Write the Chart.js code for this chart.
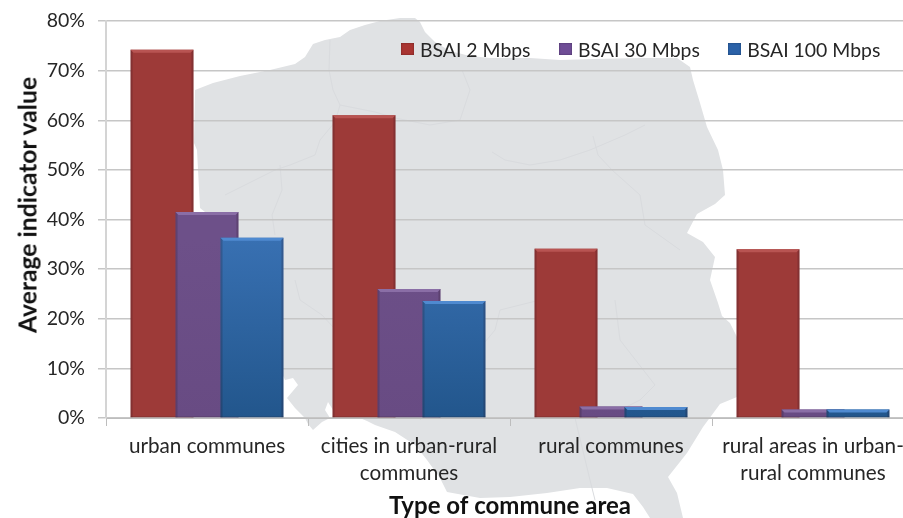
<!DOCTYPE html>
<html>
<head>
<meta charset="utf-8">
<title>Average indicator value by type of commune area</title>
<script src="https://cdn.jsdelivr.net/npm/chart.js@4"></script>
<style>
	html, body { margin: 0; background: #fff; overflow: hidden; width: 903px; height: 518px; }
	#wrap { position: relative; width: 903px; height: 518px; overflow: hidden; }
	#myChart { position: absolute; left: 0; top: 0; }
	#legend { position: absolute; top: 35px; left: 401px; height: 28px; display: flex; align-items: center;
		font: 19.4px Lato, sans-serif; color: #262626; white-space: nowrap; }
	#legend span.item { display: flex; align-items: center; margin-right: 28.5px; }
	#legend i { display: block; width: 13px; height: 12px; margin-right: 6px; box-shadow: inset 0 0 2px rgba(0,0,0,.45); }
	#yTitle { position: absolute; left: 27px; top: 205px; transform: translate(-50%, -50%) rotate(-90deg);
		font: bold 24.7px Lato, sans-serif; color: #111; white-space: nowrap; }
</style>
</head>
<body>
<div id="wrap">
	<canvas id="myChart" width="914" height="518"></canvas>
	<div id="legend"></div>
	<div id="yTitle"></div>
</div>
<script>
const categories = [
	'urban communes',
	['cities in urban-rural', 'communes'],
	'rural communes',
	['rural areas in urban-', 'rural communes'],
];
const seriesNames = ['BSAI 2 Mbps', 'BSAI 30 Mbps', 'BSAI 100 Mbps'];
const bsai2 = [74.2, 61, 34.1, 34];
const bsai30 = [41.5, 26, 2.3, 1.7];
const bsai100 = [36.3, 23.6, 2.2, 1.7];
const yTicks = ['0%', '10%', '20%', '30%', '40%', '50%', '60%', '70%', '80%'];

// map of Poland behind the plot, in canvas pixels
const mapOutline = [
	[195,90],[213,83],[240,76],[270,70],[295,64],[305,57],[313,44],[325,40],[340,37],[350,30],[365,25],[380,21],
	[400,18],[415,18],[420,22],[425,32],[435,42],[450,51],[470,56],[490,58],[530,58],[560,60],[593,59],[640,58],
	[677,58],[690,67],[693,80],[700,103],[707,127],[718,150],[723,170],[725,195],[715,204],[697,214],[687,233],
	[703,242],[715,257],[710,280],[718,303],[722,316],[730,323],[737,337],[737,397],[720,404],[703,427],[687,453],
	[668,477],[677,493],[683,518],[650,518],[643,507],[633,494],[607,488],[580,488],[547,493],[510,497],[480,498],
	[447,492],[440,478],[427,460],[415,445],[395,432],[375,425],[367,421],[360,418],[333,418],[333,410],[328,402],
	[325,410],[330,418],[322,422],[313,430],[308,424],[305,418],[295,408],[287,398],[298,385],[293,378],[285,380],
	[205,212],[200,208],[197,150],[194,143],
];
// faint voivodeship borders on the map
const mapBorders = [
	[[330,40],[329,70],[333,90],[340,105],[335,122],[320,140],[315,155],[290,165],[275,170],[255,180],[225,195]],
	[[280,165],[282,190],[272,215],[275,235]],
	[[340,105],[375,112],[395,118],[430,125],[460,120],[470,90],[462,70]],
	[[645,125],[625,135],[590,150],[560,160],[530,165],[505,160],[492,152]],
	[[593,136],[598,155],[612,170],[640,195],[645,225],[680,250]],
	[[295,280],[300,300],[322,315],[345,340]],
	[[420,420],[470,360],[495,330],[500,310],[540,300]],
	[[575,418],[590,480],[595,500]],
	[[615,300],[620,340],[655,385],[640,400],[610,415]],
];

// draws the map under the gridlines
const mapBackdrop = {
	id: 'mapBackdrop',
	beforeDraw(chart) {
		const ctx = chart.ctx;
		ctx.save();
		ctx.fillStyle = '#e0e2e4';
		ctx.beginPath();
		mapOutline.forEach((p, i) => (i ? ctx.lineTo(p[0], p[1]) : ctx.moveTo(p[0], p[1])));
		ctx.closePath();
		ctx.fill();
		ctx.strokeStyle = '#d9dbde';
		ctx.lineWidth = 1;
		mapBorders.forEach((line) => {
			ctx.beginPath();
			line.forEach((p, i) => (i ? ctx.lineTo(p[0], p[1]) : ctx.moveTo(p[0], p[1])));
			ctx.stroke();
		});
		ctx.restore();
	},
};

const bevelTops = ['#b85452', '#8a6ea6', '#4f8ad0'];

// bars overlap with the later series in front, so draw them first to last
// and put the chiselled edges on each one
const layeredBars = {
	id: 'layeredBars',
	beforeDatasetDraw() {
		return false;
	},
	afterDatasetsDraw(chart) {
		const ctx = chart.ctx;
		chart.data.datasets.forEach((ds, d) => {
			const meta = chart.getDatasetMeta(d);
			meta.controller.draw();
			meta.data.forEach((bar) => {
				const left = bar.x - bar.width / 2;
				const right = bar.x + bar.width / 2;
				ctx.save();
				ctx.fillStyle = 'rgba(40,20,30,0.22)';
				ctx.fillRect(left, bar.y, 2, bar.base - bar.y);
				ctx.fillRect(right - 2, bar.y, 2, bar.base - bar.y);
				ctx.fillStyle = 'rgba(40,20,30,0.18)';
				ctx.fillRect(left, bar.base - 1, bar.width, 1);
				ctx.fillStyle = bevelTops[d];
				ctx.beginPath();
				ctx.moveTo(left, bar.y);
				ctx.lineTo(right, bar.y);
				ctx.lineTo(right - 3, bar.y + 3);
				ctx.lineTo(left + 3, bar.y + 3);
				ctx.closePath();
				ctx.fill();
				ctx.restore();
			});
		});
	},
};

const canvas = document.getElementById('myChart');
const ctx = canvas.getContext('2d');

function columnFill(top, bottom) {
	const g = ctx.createLinearGradient(0, 21, 0, 418);
	g.addColorStop(0, top);
	g.addColorStop(0.55, top);
	g.addColorStop(1, bottom);
	return g;
}

const fills = ['#9d3a38', columnFill('#6d5089', '#684b83'), columnFill('#3870b2', '#22568c')];
const swatches = ['#a93532', '#6f4d96', '#2b62a8'];

var data = {
	labels: categories,
	datasets: [bsai2, bsai30, bsai100].map((values, i) => ({
		label: seriesNames[i],
		data: values,
		backgroundColor: fills[i],
		categoryPercentage: 0.668,
		barPercentage: 1.4,
	})),
};

var myBarChart = new Chart(ctx, {
	type: 'bar',
	data: data,
	plugins: [mapBackdrop, layeredBars],
	options: {
		responsive: false,
		animation: false,
		layout: { autoPadding: false, padding: { top: 21, left: 0, right: 0, bottom: 0 } },
		plugins: { legend: { display: false }, tooltip: { enabled: false } },
		scales: {
			x: {
				afterFit: (scale) => { scale.height = 100; },
				border: { color: '#bdbdbd', width: 1 },
				grid: { drawOnChartArea: false, drawTicks: true, tickLength: 8, color: '#bdbdbd' },
				ticks: {
					autoSkip: false,
					maxRotation: 0,
					minRotation: 0,
					padding: 7,
					color: '#262626',
					font: { family: 'Lato', size: 20.7, lineHeight: 1.3 },
				},
				title: {
					display: true,
					text: 'Type of commune area',
					color: '#111',
					font: { family: 'Lato', size: 24, weight: 'bold', lineHeight: 1 },
					padding: { top: 0, bottom: 0 },
				},
			},
			y: {
				min: 0,
				max: 80,
				// the tick padding would otherwise push the top of the axis down
				afterFit: (scale) => {
					scale.width = 106;
					scale.paddingTop = 0;
					scale.paddingBottom = 0;
				},
				border: { color: '#d4d4d4', width: 2 },
				grid: { color: '#c6c6c6', lineWidth: 1.5, tickLength: 8 },
				ticks: {
					stepSize: 10,
					padding: 13,
					color: '#262626',
					font: { family: 'Lato', size: 19.5 },
					callback: (value) => yTicks[value / 10],
				},
			},
		},
	},
});

// legend row sits inside the plot, over the map
document.getElementById('legend').innerHTML = seriesNames
	.map((name, i) => `<span class="item"><i style="background:${swatches[i]}"></i>${name}</span>`)
	.join('');
document.getElementById('yTitle').textContent = 'Average indicator value';
</script>
</body>
</html>
